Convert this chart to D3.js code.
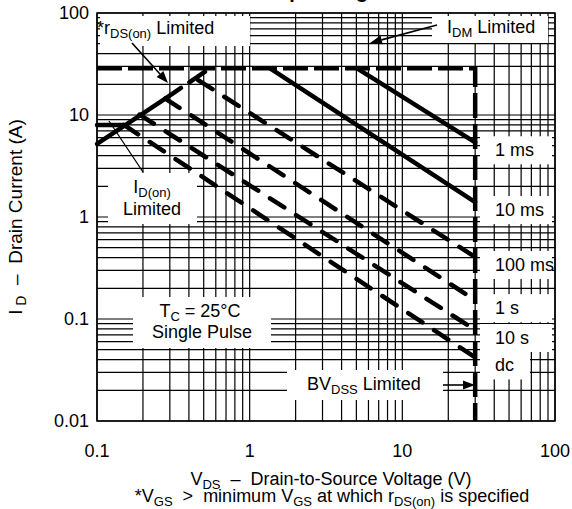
<!DOCTYPE html>
<html>
<head>
<meta charset="utf-8">
<script src="https://cdn.jsdelivr.net/npm/d3@7"></script>
<style>
    body { margin: 0; background: #fff; }
    svg text { font-family: "Liberation Sans", Arial, Helvetica, sans-serif; fill: #000; }
</style>
</head>
<body>
<svg id="chart" width="572" height="509"></svg>
<script>
// axis ticks
const xTickValues = [0.1, 1, 10, 100];
const yTickValues = [0.01, 0.1, 1, 10, 100];

// limits
const idmLimit = 28.7;      // A, pulsed drain current limit
const bvdss = 30;           // V, breakdown limit
const idOnLimit = 8;        // A
const idOnV = [0.1, 0.15];
const rdsV = [0.1, 0.28, 0.55];
const rdsI = [5.2, 14.5, 28.7];

// single pulse curves (start on the limit, end at BVDSS)
const pulseLabels = ["1 ms", "10 ms", "100 ms", "1 s", "10 s", "dc"];
const pulseStartV = [5.05, 1.36, 0.46, 0.28, 0.19, 0.15];
const pulseStartI = [28.7, 28.7, 22, 14.5, 10.1, 8];
const pulseEndI = [5.4, 1.4, 0.405, 0.153, 0.078, 0.042];

const width = 572, height = 509;
const margin = {left: 97, top: 13, right: 17, bottom: 88};

const svg = d3.select("#chart");
const x = d3.scaleLog().domain([0.1, 100]).range([margin.left, width - margin.right]);
const y = d3.scaleLog().domain([0.01, 100]).range([height - margin.bottom, margin.top]);
const x0 = x.range()[0], x1 = x.range()[1], y0 = y.range()[1], y1 = y.range()[0];

// grid
const grid = svg.append("g").attr("stroke", "#000").attr("stroke-width", 1.2);
x.ticks().forEach(v => {
    grid.append("line").attr("x1", x(v)).attr("x2", x(v)).attr("y1", y0).attr("y2", y1);
});
y.ticks().forEach(v => {
    grid.append("line").attr("x1", x0).attr("x2", x1).attr("y1", y(v)).attr("y2", y(v));
});

// white boxes behind the labels
const boxes = [
    [100, 16, 250, 46],   // rDS(on)
    [432, 16, 548, 43],   // IDM
    [108, 173, 197, 224], // ID(on)
    [133, 297, 271, 348], // Tc
    [287, 370, 443, 400]  // BVDSS
];
pulseLabels.forEach((l, i) => {
    const ye = y(pulseEndI[i]);
    boxes.push([480, ye - 6, i === 5 ? 530 : 552, ye + 22]);
});
svg.append("g").selectAll("rect").data(boxes).join("rect")
    .attr("x", d => d[0]).attr("y", d => d[1])
    .attr("width", d => d[2] - d[0]).attr("height", d => d[3] - d[1])
    .attr("fill", "#fff");

// frame
svg.append("rect").attr("x", x0).attr("y", y0).attr("width", x1 - x0).attr("height", y1 - y0)
    .attr("fill", "none").attr("stroke", "#000").attr("stroke-width", 1.5);

const line = d3.line().x(d => x(d[0])).y(d => y(d[1]));
const heavy = svg.append("g").attr("fill", "none").attr("stroke", "#000")
    .attr("stroke-width", 4.5).attr("stroke-linecap", "round");

// IDM + BVDSS limit
heavy.append("path")
    .attr("d", line([[0.1, idmLimit], [bvdss, idmLimit], [bvdss, 0.01]]))
    .attr("stroke-linecap", "butt")
    .attr("stroke-dasharray", "25,6");

// ID(on) limit
heavy.append("path").attr("d", line(idOnV.map(v => [v, idOnLimit])));

// rDS(on) limit
heavy.append("path").attr("d", line([[rdsV[0], rdsI[0]], [rdsV[1], rdsI[1]]]));
heavy.append("path").attr("d", line([[rdsV[1], rdsI[1]], [rdsV[2], rdsI[2]]]))
    .attr("stroke-dasharray", "19,10");

// pulse curves
pulseLabels.forEach((l, i) => {
    const p = heavy.append("path")
        .attr("d", line([[pulseStartV[i], pulseStartI[i]], [bvdss, pulseEndI[i]]]));
    if (i > 1) p.attr("stroke-dasharray", "17,14");
});

// arrows
function arrow(ax1, ay1, ax2, ay2) {
    const a = Math.atan2(ay2 - ay1, ax2 - ax1), len = 12, w = 4.5;
    const bx = ax2 - len * Math.cos(a), by = ay2 - len * Math.sin(a);
    svg.append("line").attr("x1", ax1).attr("y1", ay1).attr("x2", bx).attr("y2", by)
        .attr("stroke", "#000").attr("stroke-width", 1.6);
    svg.append("path")
        .attr("d", `M ${ax2} ${ay2} L ${bx - w * Math.sin(a)} ${by + w * Math.cos(a)} L ${bx + w * Math.sin(a)} ${by - w * Math.cos(a)} Z`)
        .attr("fill", "#000");
}
arrow(132, 43, 168, 83);
arrow(437, 25, 370, 43);
arrow(443, 385, 475, 385);
// ID(on) pointer
svg.append("line").attr("x1", 109).attr("y1", 121).attr("x2", 143).attr("y2", 172)
    .attr("stroke", "#000").attr("stroke-width", 1.3);

// rich text with subscripts
function richText(tx, ty, parts, anchor, size) {
    size = size || 18;
    const t = svg.append("text").attr("x", tx).attr("y", ty)
        .attr("text-anchor", anchor || "start").attr("font-size", size + "px")
        .attr("xml:space", "preserve");
    let shifted = false;
    parts.forEach(p => {
        const sub = Array.isArray(p);
        const s = t.append("tspan").text(sub ? p[0] : p);
        if (sub) {
            s.attr("font-size", Math.round(size * 0.74) + "px").attr("dy", 4);
            shifted = true;
        } else if (shifted) {
            s.attr("dy", -4);
            shifted = false;
        }
    });
    return t;
}

// title (almost all of it above the crop)
svg.append("text").attr("x", 226).attr("y", -2).attr("font-size", "20px")
    .attr("font-weight", "bold").text("Safe Operating Area");

richText(97, 34, ["*r", ["DS(on)"], " Limited"]);
richText(447, 33, ["I", ["DM"], " Limited"]);
richText(152, 193, ["I", ["D(on)"]], "middle");
richText(152, 215, ["Limited"], "middle");
richText(200, 317, ["T", ["C"], " = 25°C"], "middle");
richText(202, 338, ["Single Pulse"], "middle");
richText(307, 390, ["BV", ["DSS"], " Limited"]);
pulseLabels.forEach((l, i) => richText(495, y(pulseEndI[i]) + 14, [l]));

// tick labels
xTickValues.forEach(v => {
    svg.append("text").attr("x", x(v)).attr("y", 457).attr("text-anchor", "middle")
        .attr("font-size", "18px").text(d3.format("~g")(v));
});
yTickValues.forEach(v => {
    svg.append("text").attr("x", 89).attr("y", y(v) + 6).attr("text-anchor", "end")
        .attr("font-size", "18px").text(d3.format("~g")(v));
});

// axis titles
richText(331, 485, ["V", ["DS"], "  –  Drain-to-Source Voltage (V)"], "middle");
richText(332, 502, ["*V", ["GS"], "  >  minimum V", ["GS"], " at which r", ["DS(on)"], " is specified"], "middle");
richText(0, 0, ["I", [" D"], "  –  Drain Current (A)"], "middle", 19)
    .attr("transform", "translate(22,217) rotate(-90)");
</script>
</body>
</html>
